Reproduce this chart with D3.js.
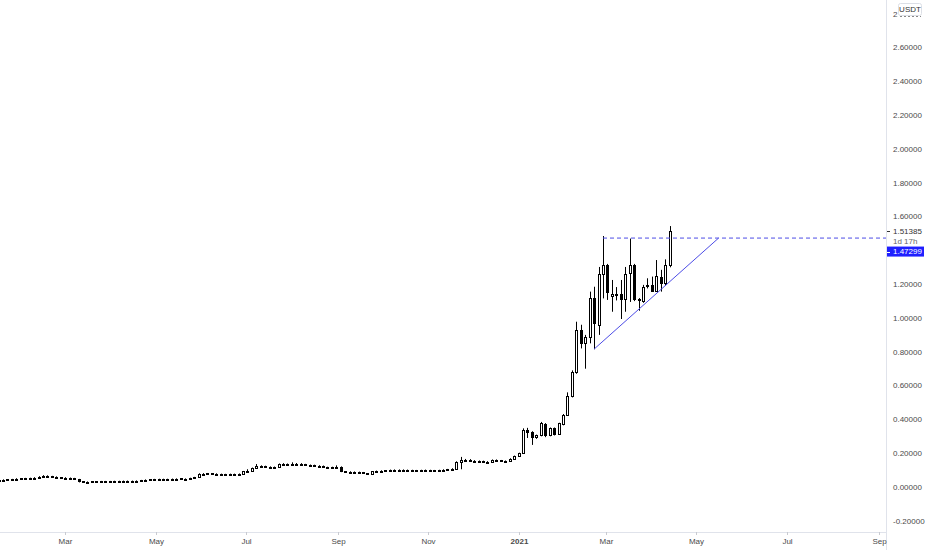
<!DOCTYPE html>
<html><head><meta charset="utf-8">
<script src="https://cdn.jsdelivr.net/npm/d3@7"></script>
<style>
html,body{margin:0;padding:0;background:#fff;}
svg{display:block;font-family:"Liberation Sans",Arial,sans-serif;}
</style>
</head><body>
<svg id="chart" width="932" height="550"></svg>
<script>
// ---- data (3-day candles, ADA/USDT) ----
const startDate = "2020-01-16";
const barDays = 3;
const opens = [
0.043,0.044,0.044,0.045,0.047,0.050,0.051,0.053,0.054,0.056,
0.062,0.067,0.064,0.062,0.057,0.055,0.054,0.053,0.047,0.033,
0.030,0.031,0.033,0.033,0.034,0.034,0.034,0.035,0.035,0.036,
0.036,0.036,0.037,0.040,0.043,0.045,0.046,0.047,0.047,0.047,
0.048,0.051,0.048,0.050,0.053,0.058,0.077,0.079,0.080,0.079,
0.077,0.077,0.076,0.077,0.077,0.078,0.093,0.095,0.113,0.124,
0.124,0.120,0.119,0.117,0.137,0.133,0.137,0.139,0.138,0.134,
0.130,0.130,0.126,0.125,0.118,0.112,0.118,0.120,0.092,0.090,
0.089,0.088,0.087,0.080,0.078,0.092,0.095,0.097,0.098,0.100,
0.101,0.102,0.101,0.100,0.099,0.098,0.099,0.100,0.099,0.098,
0.100,0.103,0.105,0.109,0.150,0.158,0.162,0.155,0.155,0.152,
0.148,0.150,0.160,0.158,0.155,0.152,0.167,0.183,0.200,0.337,
0.327,0.298,0.305,0.372,0.308,0.347,0.312,0.370,0.426,0.540,
0.680,0.929,0.855,0.889,1.116,0.959,1.262,1.311,1.128,1.140,
1.142,1.115,1.265,1.311,1.112,1.100,1.190,1.193,1.162,1.245,
1.207,1.314];
const highs = [
0.046,0.046,0.047,0.048,0.052,0.052,0.054,0.055,0.058,0.064,
0.070,0.069,0.066,0.063,0.059,0.058,0.056,0.054,0.048,0.034,
0.033,0.034,0.035,0.036,0.036,0.036,0.037,0.037,0.038,0.038,
0.038,0.039,0.042,0.045,0.047,0.048,0.049,0.049,0.049,0.050,
0.051,0.052,0.051,0.055,0.060,0.081,0.082,0.083,0.082,0.081,
0.079,0.078,0.079,0.079,0.080,0.095,0.105,0.115,0.136,0.128,
0.126,0.122,0.121,0.139,0.141,0.139,0.146,0.142,0.141,0.137,
0.133,0.132,0.129,0.127,0.120,0.120,0.128,0.122,0.094,0.093,
0.092,0.091,0.089,0.082,0.094,0.097,0.099,0.100,0.103,0.104,
0.104,0.104,0.103,0.102,0.101,0.102,0.103,0.102,0.101,0.102,
0.105,0.107,0.111,0.152,0.178,0.166,0.165,0.159,0.157,0.156,
0.153,0.163,0.163,0.160,0.157,0.170,0.186,0.203,0.347,0.350,
0.330,0.310,0.385,0.378,0.352,0.352,0.380,0.432,0.560,0.690,
0.978,0.960,0.900,1.156,1.185,1.302,1.485,1.320,1.225,1.183,
1.225,1.302,1.470,1.320,1.118,1.196,1.235,1.245,1.343,1.285,
1.347,1.544];
const lows = [
0.041,0.042,0.042,0.044,0.046,0.049,0.050,0.051,0.053,0.055,
0.060,0.062,0.060,0.055,0.053,0.052,0.051,0.045,0.027,0.024,
0.028,0.030,0.031,0.032,0.032,0.033,0.033,0.034,0.034,0.034,
0.035,0.035,0.036,0.039,0.042,0.044,0.045,0.045,0.046,0.046,
0.047,0.047,0.047,0.049,0.052,0.057,0.075,0.077,0.076,0.075,
0.074,0.074,0.074,0.075,0.075,0.077,0.090,0.093,0.112,0.119,
0.118,0.116,0.110,0.116,0.131,0.131,0.134,0.135,0.132,0.128,
0.127,0.124,0.123,0.116,0.110,0.110,0.115,0.088,0.087,0.086,
0.086,0.085,0.078,0.076,0.077,0.090,0.093,0.095,0.096,0.098,
0.098,0.099,0.098,0.097,0.096,0.096,0.097,0.096,0.095,0.096,
0.099,0.101,0.103,0.107,0.105,0.152,0.150,0.150,0.146,0.145,
0.145,0.148,0.154,0.152,0.143,0.150,0.165,0.178,0.198,0.290,
0.249,0.285,0.300,0.295,0.300,0.305,0.308,0.365,0.420,0.530,
0.670,0.820,0.700,0.850,0.815,0.900,1.116,1.107,1.037,1.104,
0.994,1.037,1.095,1.100,1.043,1.090,1.175,1.156,1.156,1.156,
1.190,1.300];
const closes = [
0.044,0.044,0.045,0.047,0.050,0.051,0.053,0.054,0.056,0.062,
0.067,0.064,0.062,0.057,0.055,0.054,0.053,0.047,0.033,0.030,
0.031,0.033,0.033,0.034,0.034,0.034,0.035,0.035,0.036,0.036,
0.036,0.037,0.040,0.043,0.045,0.046,0.047,0.047,0.047,0.048,
0.049,0.048,0.050,0.053,0.058,0.077,0.079,0.080,0.079,0.077,
0.077,0.076,0.077,0.077,0.078,0.093,0.095,0.113,0.124,0.124,
0.120,0.119,0.117,0.137,0.133,0.137,0.139,0.138,0.134,0.130,
0.130,0.126,0.125,0.118,0.112,0.118,0.120,0.092,0.090,0.089,
0.088,0.087,0.080,0.078,0.092,0.095,0.097,0.098,0.100,0.101,
0.102,0.101,0.100,0.099,0.098,0.099,0.100,0.099,0.098,0.100,
0.103,0.105,0.109,0.150,0.158,0.162,0.155,0.155,0.152,0.148,
0.150,0.160,0.158,0.155,0.152,0.167,0.183,0.200,0.337,0.327,
0.298,0.305,0.376,0.308,0.347,0.312,0.376,0.426,0.540,0.680,
0.929,0.855,0.885,1.118,0.968,1.262,1.311,1.154,1.142,1.135,
1.112,1.262,1.311,1.112,1.104,1.185,1.195,1.162,1.249,1.207,
1.314,1.51385];

const yTicks = [-0.2,0,0.2,0.4,0.6,0.8,1.0,1.2,1.4,1.6,1.8,2.0,2.2,2.4,2.6,2.8];
const yTickLabels = ["-0.20000","0.00000","0.20000","0.40000","0.60000","0.80000","1.00000","1.20000","1.40000","1.60000","1.80000","2.00000","2.20000","2.40000","2.60000","2.80000"];
const xTickDates = ["2020-03-01","2020-05-01","2020-07-01","2020-09-01","2020-11-01","2021-01-01","2021-03-01","2021-05-01","2021-07-01","2021-09-01"];
const xTickLabels = ["Mar","May","Jul","Sep","Nov","2021","Mar","May","Jul","Sep"];
const xDomain = ["2020-01-17","2021-09-06"];

const levelValue = 1.47299;
const levelLabel = "1.47299";
const levelStart = "2021-02-27";
const trendPoints = [{date:"2021-02-21", value:0.816},{date:"2021-05-16", value:1.47299}];
const lastLabel = "1.51385";
const countdown = "1d 17h";
const currency = "USDT";

// ---- layout ----
const W = 932, H = 550, plotR = 886, plotB = 532;
const svg = d3.select("#chart");
const U = s => new Date(s + "T00:00:00Z");
const x = d3.scaleUtc().domain(xDomain.map(U)).range([0, plotR]);
const y = d3.scaleLinear().domain([-0.2, 2.8]).range([520.8, 13.8]);

const bars = opens.map((o, i) => ({
  date: d3.utcDay.offset(U(startDate), i * barDays),
  o, h: highs[i], l: lows[i], c: closes[i]
}));

svg.append("rect").attr("width", W).attr("height", H).attr("fill", "#fff");

const defs = svg.append("defs");
defs.append("clipPath").attr("id", "plotclip")
  .append("rect").attr("x", 0).attr("y", 0).attr("width", plotR).attr("height", plotB);
defs.append("clipPath").attr("id", "topclip")
  .append("rect").attr("x", 886).attr("y", 0).attr("width", 12).attr("height", 30);

const plot = svg.append("g").attr("clip-path", "url(#plotclip)");

// candles
const cg = plot.append("g");
bars.forEach(b => {
  const cx = Math.round(x(b.date));
  cg.append("line")
    .attr("x1", cx + 0.5).attr("x2", cx + 0.5)
    .attr("y1", y(b.h)).attr("y2", y(b.l))
    .attr("stroke", "#000").attr("stroke-width", 1);
  const top = Math.round(y(Math.max(b.o, b.c)));
  const bot = Math.round(y(Math.min(b.o, b.c)));
  const up = b.c >= b.o;
  cg.append("rect")
    .attr("x", cx - 0.5).attr("y", top + 0.5)
    .attr("width", 2).attr("height", Math.max(bot - top, 1))
    .attr("fill", up ? "#fff" : "#000")
    .attr("stroke", "#000").attr("stroke-width", 1);
});

// horizontal level (dashed)
const lineColor = "#4c4ce6";
plot.append("line")
  .attr("x1", x(U(levelStart))).attr("x2", plotR)
  .attr("y1", y(levelValue)).attr("y2", y(levelValue))
  .attr("stroke", lineColor).attr("stroke-width", 1)
  .attr("stroke-dasharray", "4,3");

// trend line
plot.append("path")
  .attr("d", d3.line().x(d => x(U(d.date))).y(d => y(d.value))(trendPoints))
  .attr("stroke", lineColor).attr("stroke-width", 1).attr("fill", "none");

// axes frame
svg.append("line").attr("x1", plotR + 0.5).attr("x2", plotR + 0.5).attr("y1", 0).attr("y2", H)
  .attr("stroke", "#e0e3eb");
svg.append("line").attr("x1", 0).attr("x2", plotR).attr("y1", plotB + 0.5).attr("y2", plotB + 0.5)
  .attr("stroke", "#e0e3eb");

// y labels (the top one is partly hidden by the currency box, as in the source)
const yl = svg.append("g").attr("font-size", 8).attr("fill", "#4a4a4a");
yTicks.forEach((v, i) => {
  const t = yl.append("text").attr("x", 893).attr("y", y(v)).attr("dy", "0.35em").text(yTickLabels[i]);
  if (i === yTicks.length - 1) t.attr("clip-path", "url(#topclip)");
});

// x labels
const xl = svg.append("g").attr("font-size", 8).attr("fill", "#4a4a4a").attr("text-anchor", "middle");
xTickDates.forEach((d, i) => {
  const px = Math.round(x(U(d))) + 0.5;
  svg.append("line").attr("x1", px).attr("x2", px).attr("y1", plotB).attr("y2", plotB + 3)
    .attr("stroke", "#c8cad0");
  xl.append("text").attr("x", px).attr("y", 544)
    .attr("font-weight", xTickLabels[i] === "2021" ? "bold" : null)
    .text(xTickLabels[i]);
});

// last price label + countdown
const ly = Math.round(y(closes[closes.length - 1])) + 0.5;
svg.append("line").attr("x1", 887).attr("x2", 890).attr("y1", ly).attr("y2", ly).attr("stroke", "#333");
svg.append("text").attr("x", 893).attr("y", ly).attr("dy", "0.35em")
  .attr("font-size", 8).attr("fill", "#333").text(lastLabel);
svg.append("text").attr("x", 893).attr("y", ly + 10).attr("dy", "0.35em")
  .attr("font-size", 8).attr("fill", "#666").text(countdown);

// level label (offset to avoid overlap)
const by = y(levelValue) + 13.5;
svg.append("rect").attr("x", 887).attr("y", by - 5).attr("width", 37).attr("height", 10)
  .attr("fill", "#1f1fff");
svg.append("line").attr("x1", 887).attr("x2", 890).attr("y1", Math.round(by) + 0.5).attr("y2", Math.round(by) + 0.5)
  .attr("stroke", "#fff");
svg.append("text").attr("x", 893).attr("y", by).attr("dy", "0.35em")
  .attr("font-size", 8).attr("fill", "#fff").text(levelLabel);

// currency box
svg.append("rect").attr("x", 898.5).attr("y", 3.5).attr("width", 23).attr("height", 12).attr("rx", 2)
  .attr("fill", "#fff").attr("stroke", "#dcdfe6");
svg.append("text").attr("x", 910).attr("y", 9.5).attr("dy", "0.35em").attr("text-anchor", "middle")
  .attr("font-size", 8).attr("fill", "#333").text(currency);
svg.append("line").attr("x1", 900).attr("x2", 921).attr("y1", 16.5).attr("y2", 16.5)
  .attr("stroke", "#888").attr("stroke-dasharray", "2,2");
</script>
</body></html>
